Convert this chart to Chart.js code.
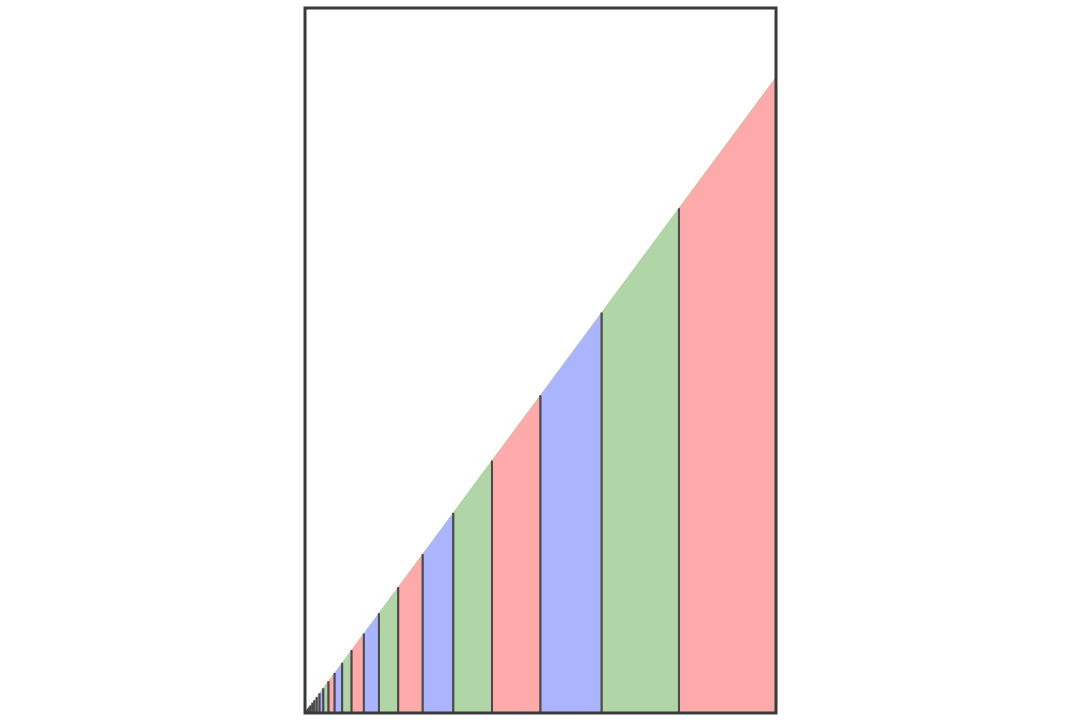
<!DOCTYPE html>
<html>
<head>
<meta charset="utf-8">
<script src="https://cdn.jsdelivr.net/npm/chart.js@4.4.1/dist/chart.umd.min.js"></script>
<style>
  html, body { margin: 0; padding: 0; background: #ffffff; }
  #wrap { width: 1080px; height: 720px; }
</style>
</head>
<body>
<div id="wrap"><canvas id="chart" width="1080" height="720"></canvas></div>
<script>
// strip edges along x (each strip runs from edges[i+1] to edges[i])
const edges = [
    1.000, 0.794, 0.630, 0.500, 0.397, 0.315, 0.250, 0.198, 0.157,
    0.125, 0.099, 0.079, 0.063, 0.050, 0.039, 0.031, 0.025, 0.020,
    0.016, 0.012, 0.0098, 0.0078, 0.0062, 0.0049, 0.0039, 0.0031, 0.0
];
const stripColors = ["#ffaaaa", "#b0d6a8", "#aab4ff"];
const yMax = 1.109;

const datasets = [];
for (let i = 0; i < edges.length - 1; i++) {
    const right = edges[i];
    const left = edges[i + 1];
    datasets.push({
        data: [
            { x: left, y: 0 },
            { x: left, y: left },
            { x: right, y: right },
            { x: right, y: 0 },
        ],
        backgroundColor: stripColors[i % 3],
        fill: "origin",
        borderWidth: 2,
        pointRadius: 0,
        tension: 0,
        segment: {
            borderColor: (ctx) => (ctx.p0DataIndex === 1 ? "#b8c8a8" : "#4a4a4a"),
            borderWidth: (ctx) => (ctx.p0DataIndex === 1 ? 1 : 2),
        },
    });
}

const framePlugin = {
    id: "frame",
    afterDatasetsDraw(chart) {
        const { ctx, chartArea } = chart;
        ctx.save();
        ctx.strokeStyle = "#3a3a3a";
        ctx.lineWidth = 3;
        ctx.strokeRect(chartArea.left, chartArea.top,
            chartArea.right - chartArea.left, chartArea.bottom - chartArea.top);
        ctx.restore();
    },
};

new Chart(document.getElementById("chart"), {
    type: "line",
    data: { datasets },
    plugins: [framePlugin],
    options: {
        responsive: false,
        animation: false,
        layout: { padding: { left: 305, right: 304, top: 8, bottom: 7 } },
        plugins: {
            legend: { display: false },
            tooltip: { enabled: false },
        },
        scales: {
            x: { type: "linear", min: 0, max: 1, display: false },
            y: { type: "linear", min: 0, max: yMax, display: false },
        },
    },
});
</script>
</body>
</html>
